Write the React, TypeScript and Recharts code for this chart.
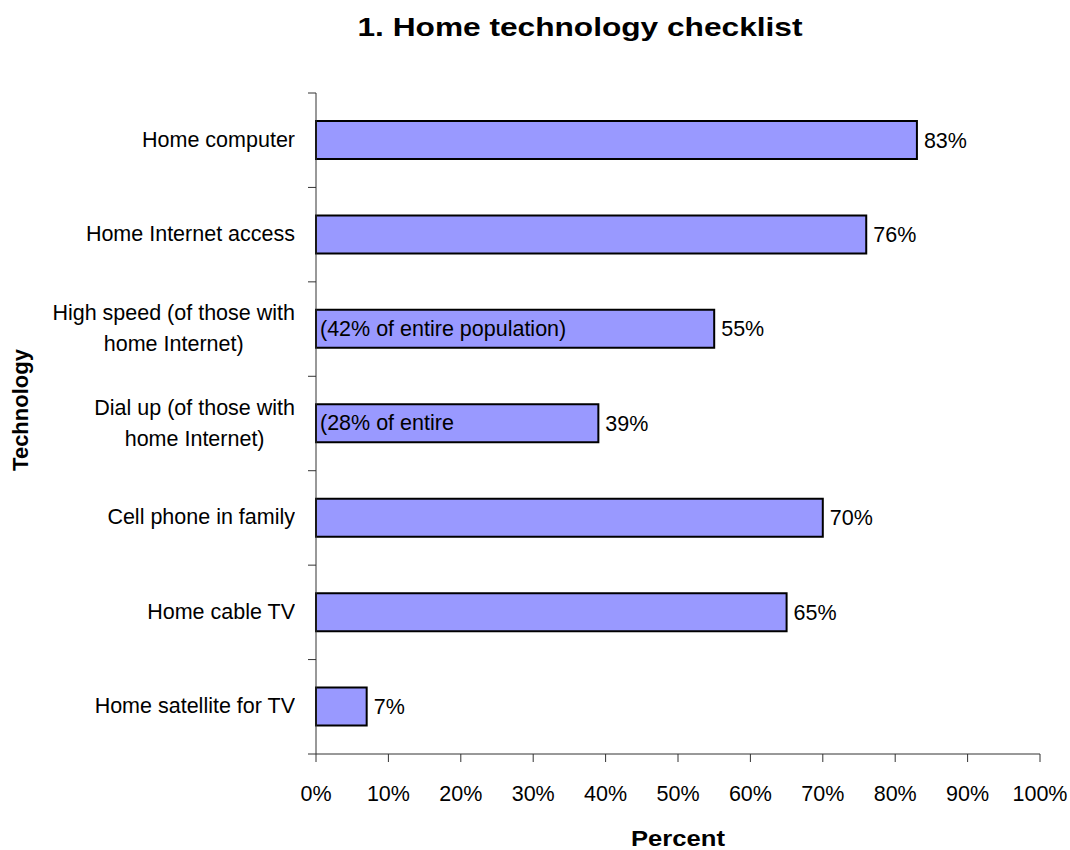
import React from "react";
import { BarChart, Bar, XAxis, YAxis, LabelList } from "recharts";

const categories = [
  "Home computer",
  "Home Internet access",
  "High speed (of those with\nhome Internet)",
  "Dial up (of those with\nhome Internet)",
  "Cell phone in family",
  "Home cable TV",
  "Home satellite for TV",
];
const values = [83, 76, 55, 39, 70, 65, 7];
const notes = ["", "", "(42% of entire population)", "(28% of entire", "", "", ""];
const percentTicks = [0, 10, 20, 30, 40, 50, 60, 70, 80, 90, 100];

const data = categories.map((name, i) => ({ name, value: values[i], note: notes[i] }));

const FONT = '"Liberation Sans", Arial, sans-serif';
const AXIS = "#333";

// category label: centred lines, block right-aligned against the axis,
// plus tick marks on the band boundaries (Excel style)
const CategoryTick = (props: any) => {
  const { x, y, payload, height, visibleTicksCount, index } = props;
  const lines: string[] = String(payload.value).split("\n");
  const band = height && visibleTicksCount ? height / visibleTicksCount : 0;
  const isLast = index === visibleTicksCount - 1;
  return (
    <g>
      {band > 0 && <line x1={x - 8} x2={x} y1={y - band / 2} y2={y - band / 2} stroke={AXIS} />}
      {band > 0 && isLast && <line x1={x - 8} x2={x} y1={y + band / 2} y2={y + band / 2} stroke={AXIS} />}
      <foreignObject x={x - 21 - 400} y={y - 50} width={400} height={100}>
        <div
          style={{
            display: "flex",
            alignItems: "center",
            justifyContent: "flex-end",
            height: "100%",
            fontFamily: FONT,
            fontSize: 21.5,
            lineHeight: "31px",
            color: "#000",
          }}
        >
          <div style={{ textAlign: "center" }}>
            {lines.map((l, i) => (
              <div key={i}>{l}</div>
            ))}
          </div>
        </div>
      </foreignObject>
    </g>
  );
};

const NoteLabel = (props: any) => {
  const { x, y, height, value } = props;
  if (!value) return null;
  return (
    <text
      x={x + 4}
      y={y + height / 2}
      dominantBaseline="central"
      textAnchor="start"
      fontFamily={FONT}
      fontSize={21.5}
      fill="#000"
    >
      {value}
    </text>
  );
};

export default function App() {
  return (
    <div style={{ position: "absolute", left: 0, top: 0, width: 1070, height: 850, background: "#fff" }}>
      <BarChart
        width={1070}
        height={850}
        data={data}
        layout="vertical"
        margin={{ top: 93, right: 30, bottom: 56, left: 0 }}
      >
        <XAxis
          type="number"
          domain={[0, 100]}
          ticks={percentTicks}
          tickFormatter={(v) => `${v}%`}
          height={40}
          tickSize={8}
          tickMargin={24}
          interval={0}
          axisLine={{ stroke: AXIS }}
          tickLine={{ stroke: AXIS }}
          tick={{ fill: "#000", fontSize: 21.5, fontFamily: FONT }}
        />
        <YAxis
          type="category"
          dataKey="name"
          width={316}
          tickSize={0}
          tickMargin={0}
          axisLine={{ stroke: AXIS }}
          tickLine={false}
          interval={0}
          tick={<CategoryTick />}
        />
        <Bar
          dataKey="value"
          fill="#9999FF"
          stroke="#000"
          strokeWidth={2}
          barSize={38}
          isAnimationActive={false}
        >
          <LabelList
            dataKey="value"
            position="right"
            offset={7}
            formatter={(v: any) => `${v}%`}
            style={{ fill: "#000", fontSize: 21.5, fontFamily: FONT }}
          />
          <LabelList dataKey="note" content={<NoteLabel />} />
        </Bar>
      </BarChart>
      <svg width={1070} height={850} style={{ position: "absolute", left: 0, top: 0, pointerEvents: "none" }}>
        <text
          x={580}
          y={36}
          textAnchor="middle"
          fontFamily={FONT}
          fontWeight="bold"
          fontSize={26}
          textLength={445}
          lengthAdjust="spacingAndGlyphs"
        >
          1. Home technology checklist
        </text>
        <text
          x={678}
          y={846}
          textAnchor="middle"
          fontFamily={FONT}
          fontWeight="bold"
          fontSize={22}
          textLength={94}
          lengthAdjust="spacingAndGlyphs"
        >
          Percent
        </text>
        <text
          x={28}
          y={410}
          transform="rotate(-90, 28, 410)"
          textAnchor="middle"
          fontFamily={FONT}
          fontWeight="bold"
          fontSize={22}
        >
          Technology
        </text>
      </svg>
    </div>
  );
}
